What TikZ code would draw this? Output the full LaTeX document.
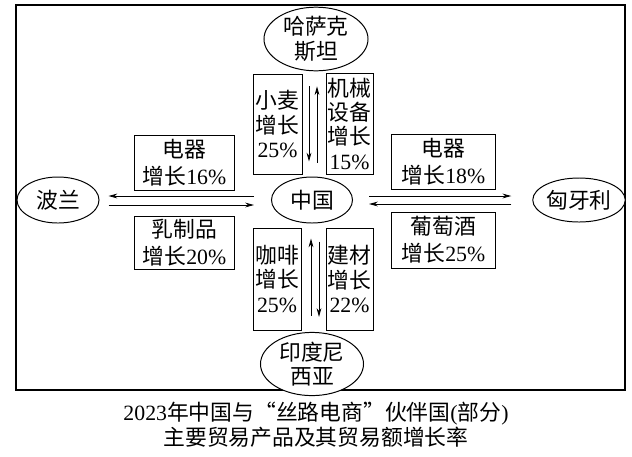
\documentclass[tikz,border=0pt]{standalone}
\usepackage{fontspec}
\setmainfont{Liberation Serif}
\newfontfamily\cjk{Noto Sans CJK SC}
\usetikzlibrary{shapes.geometric,arrows.meta}
\newcommand{\rate}[1]{{\rmfamily #1\%}}

\begin{document}
\begin{tikzpicture}[x=0.025cm, y=-0.025cm,
  country/.style={ellipse, draw, line width=0.7pt, fill=white, inner sep=0pt, align=center, font=\cjk\fontsize{15.5}{17.5}\selectfont},
  goods/.style={rectangle, draw, line width=0.7pt, fill=white, inner sep=0pt, align=center, font=\cjk\fontsize{15.5}{19}\selectfont},
  tallgoods/.style={goods, font=\cjk\fontsize{15.5}{17.3}\selectfont},
  arr/.style={-{Stealth[length=2.2mm, width=1.2mm]}, line width=0.6pt}
]
  \useasboundingbox (0,0) rectangle (632,456);
  \draw[line width=0.8pt] (16,5) rectangle (625,390);

  \node[country, minimum width=2.6cm, minimum height=1.35cm] (kz) at (316,39) {哈萨克\\斯坦};
  \node[country, minimum width=2.05cm, minimum height=1.15cm] (pl) at (58,200) {波兰};
  \node[country, minimum width=2.025cm, minimum height=1.15cm] (cn) at (312,200) {中国};
  \node[country, minimum width=2.05cm, minimum height=1.1cm] (hu) at (579,200) {匈牙利};
  \node[country, minimum width=2.575cm, minimum height=1.35cm] (id) at (312,364) {印度尼\\西亚};

  \node[tallgoods, minimum width=1.225cm, minimum height=2.5cm] (wheat) at (277.5,124) {小麦\\增长\\\rate{25}};
  \node[tallgoods, minimum width=1.175cm, minimum height=2.525cm] (mach) at (349.5,123.5) {机械\\设备\\增长\\\rate{15}};
  \node[goods, minimum width=2.475cm, minimum height=1.375cm] (elec1) at (184.5,162.5) {电器\\增长\rate{16}};
  \node[goods, minimum width=2.475cm, minimum height=1.325cm] (dairy) at (184.5,242.5) {乳制品\\增长\rate{20}};
  \node[goods, minimum width=2.575cm, minimum height=1.375cm] (elec2) at (443.5,161.5) {电器\\增长\rate{18}};
  \node[goods, minimum width=2.575cm, minimum height=1.4cm] (wine) at (443.5,240) {葡萄酒\\增长\rate{25}};
  \node[tallgoods, minimum width=1.2cm, minimum height=2.55cm] (coffee) at (277,279) {咖啡\\增长\\\rate{25}};
  \node[tallgoods, minimum width=1.175cm, minimum height=2.55cm] (build) at (349.5,279) {建材\\增长\\\rate{22}};

  \draw[arr] ([shift={(-17,-4)}]cn.west) -- ([shift={(9,-4)}]pl.east);
  \draw[arr] ([shift={(9,5)}]pl.east) -- ([shift={(-17,5)}]cn.west);
  \draw[arr] ([shift={(16,-4)}]cn.east) -- ([shift={(-21,-4)}]hu.west);
  \draw[arr] ([shift={(-21,4)}]hu.west) -- ([shift={(16,4)}]cn.east);
  \draw[arr] ([shift={(-7,15)}]kz.south) -- ([shift={(-3,-15)}]cn.north);
  \draw[arr] ([shift={(5,-14)}]cn.north) -- ([shift={(1,15)}]kz.south);
  \draw[arr] ([shift={(-1,-16)}]id.north) -- ([shift={(-1,15)}]cn.south);
  \draw[arr] ([shift={(7,18)}]cn.south) -- ([shift={(7,-15)}]id.north);

  \node[align=center, font=\cjk\fontsize{15.5}{18}\selectfont] (caption) at (316,425)
    {{\rmfamily 2023}年中国与“丝路电商”伙伴国{\rmfamily (}部分{\rmfamily )}\\主要贸易产品及其贸易额增长率};
\end{tikzpicture}
\end{document}
